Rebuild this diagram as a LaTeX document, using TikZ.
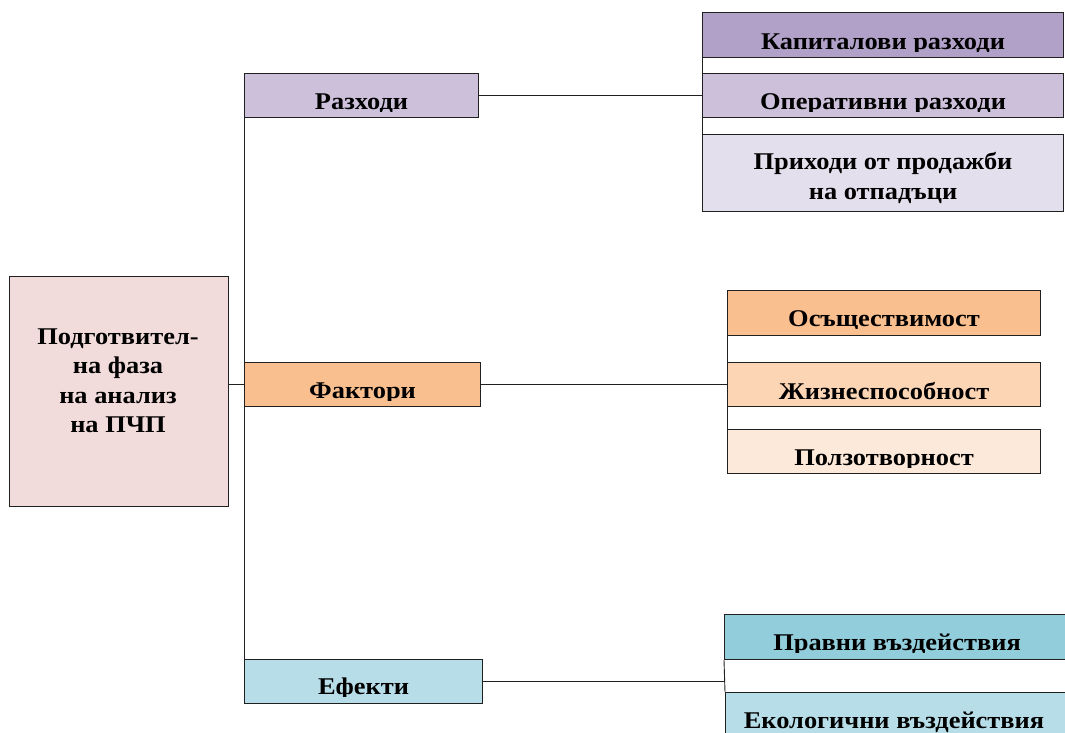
\documentclass[tikz,border=0pt]{standalone}
\usepackage{fontspec}
\setmainfont{Liberation Serif}
\newfontfamily\widefont[FakeStretch=1.1]{Liberation Serif}
\definecolor{mainpink}{HTML}{F2DCDB}
\definecolor{lilacA}{HTML}{B1A0C7}
\definecolor{lilacB}{HTML}{CCC0DA}
\definecolor{lilacC}{HTML}{E4DFEC}
\definecolor{peachA}{HTML}{FABF8F}
\definecolor{peachB}{HTML}{FCD5B4}
\definecolor{peachC}{HTML}{FDE9D9}
\definecolor{aquaA}{HTML}{92CDDC}
\definecolor{aquaB}{HTML}{B7DEE8}
\definecolor{edge}{HTML}{202020}
\tikzset{
  box/.style={draw=edge, line width=1.1pt, rectangle, inner sep=0pt, anchor=north west},
  lbl/.style={font=\widefont\bfseries\fontsize{24}{29.5}\selectfont, inner sep=0pt, anchor=base, align=center},
  link/.style={draw=edge, line width=0.9pt}
}
% a filled box whose label sits low, cut off just under its baseline
\newcommand\labelbox[8]{%
  \node[box, fill=#2, minimum width=#5pt, minimum height=#6pt] (#1) at (#3,#4) {};
  \begin{scope}
    \clip ([yshift=#8pt-2pt]#1.south west) rectangle (#1.north east);
    \node[lbl] at ([yshift=#8pt]#1.south) {#7};
  \end{scope}}
\begin{document}
\begin{tikzpicture}[x=1pt,y=-1pt]
\useasboundingbox (0,0) rectangle (1065,733);

% root
\node[box, fill=mainpink, minimum width=219pt, minimum height=230pt] (main) at (9,276) {};
\node[lbl, anchor=center] at (118,381) {Подготвител-\\на фаза\\на анализ\\на ПЧП};

% middle column
\labelbox{raz}{lilacB}{244}{73}{234}{44}{Разходи}{9}
\labelbox{fak}{peachA}{244}{362}{236}{44}{Фактори}{9}
\labelbox{efe}{aquaB}{244}{659}{238}{44}{Ефекти}{10}

% costs
\labelbox{kap}{lilacA}{702}{12}{361}{45}{Капиталови разходи}{9}
\labelbox{ope}{lilacB}{702}{73}{361}{44}{Оперативни разходи}{9}
\node[box, fill=lilacC, minimum width=361pt, minimum height=77pt] (pri) at (702,134) {};
\node[lbl] at ([yshift=13pt]pri.south) {на отпадъци};
\node[lbl] at ([yshift=43pt]pri.south) {Приходи от продажби};

% factors
\labelbox{osa}{peachA}{727}{290}{313}{45}{Осъществимост}{10}
\labelbox{zhi}{peachB}{727}{362}{313}{44}{Жизнеспособност}{8}
\labelbox{pol}{peachC}{727}{429}{313}{44}{Ползотворност}{9}

% effects
\labelbox{pra}{aquaA}{724}{614}{345}{45}{Правни въздействия}{10}
\node[box, fill=aquaB, minimum width=345pt, minimum height=46pt] (eco) at (725,692) {};
\node[lbl] at (894,728) {Екологични въздействия};

% connectors
\draw[link] (raz.south west) -- (efe.north west);
\draw[link] (main.east |- fak.west) -- (fak.west);
\draw[link] (raz.east) -- (ope.west);
\draw[link] (kap.north west) -- (pri.south west);
\draw[link] (fak.east) -- (zhi.west);
\draw[link] (osa.north west) -- (pol.south west);
\coordinate (efj) at (pra.west |- efe.east);
\draw[link] (efe.east) -- (efj);
\draw[link] (pra.south west) -- (eco.north west);
\end{tikzpicture}
\end{document}
